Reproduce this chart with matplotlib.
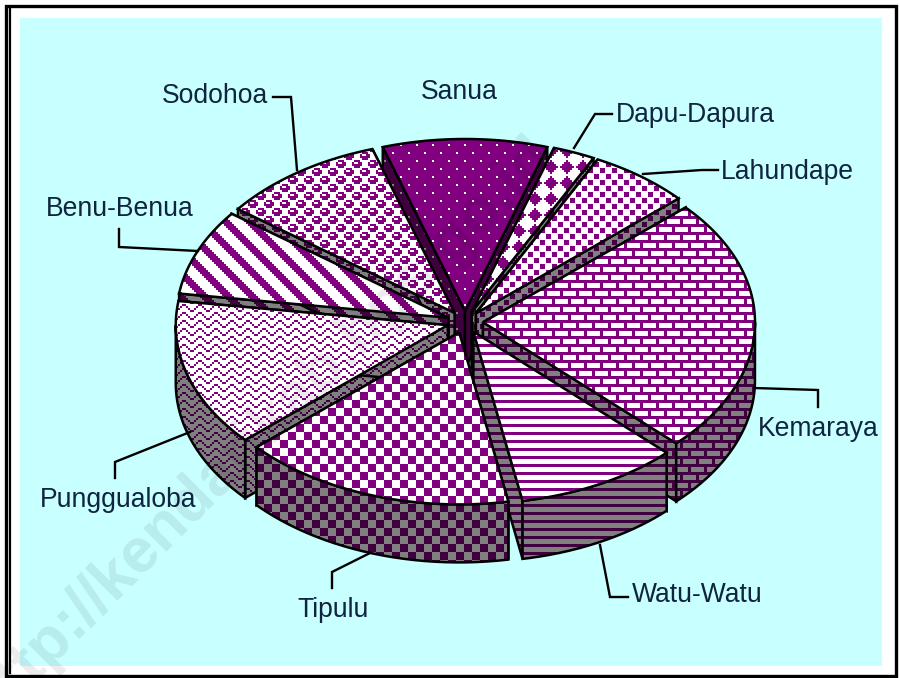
import numpy as np
import matplotlib
matplotlib.use("Agg")
import matplotlib.pyplot as plt
from matplotlib.path import Path
from matplotlib.patches import PathPatch, Rectangle

# clockwise from the top-left edge of Sanua
names = ["Sanua", "Dapu-Dapura", "Lahundape", "Kemaraya", "Watu-Watu",
         "Tipulu", "Punggualoba", "Benu-Benua", "Sodohoa"]
values = [9.8, 2.5, 6.0, 24.1, 9.7, 16.3, 13.9, 8.1, 9.8]
start_angle = 107.6

label_x = [459, 616, 721, 758, 632, 297, 40, 46, 162]
label_y = [92, 115, 172, 429, 595, 610, 500, 209, 96]
label_ha = ["center", "left", "left", "left", "left", "left", "left", "left", "left"]

leaders = {
    "Dapu-Dapura": [(612, 114), (595, 114), (574, 148)],
    "Lahundape": [(718, 170), (702, 170), (643, 174)],
    "Kemaraya": [(818, 407), (818, 390), (754, 388)],
    "Watu-Watu": [(628, 597), (610, 597), (600, 545)],
    "Tipulu": [(332, 588), (332, 572), (370, 553)],
    "Punggualoba": [(115, 478), (115, 462), (190, 432)],
    "Benu-Benua": [(119, 229), (119, 247), (198, 251)],
    "Sodohoa": [(273, 97), (291, 97), (297, 170)],
}

cx, cy = 465, 322
rx, ry = 272, 172
depth = 58
explode_x, explode_y = 18, 11

PURPLE = (128, 0, 128)
DARK = (64, 0, 64)
GREY = (128, 128, 128)
WHITE = (255, 255, 255)


def tile(rows, scale=2):
    a = np.array([[int(c) for c in r] for r in rows])
    return np.kron(a, np.ones((scale, scale), dtype=int))


def bricks():
    t = np.zeros((16, 16), dtype=int)
    t[0:3, :] = 1
    t[8:11, :] = 1
    t[:8, 0:3] = 1
    t[8:, 8:11] = 1
    return t


def stripes():
    y, x = np.mgrid[0:24, 0:24]
    return ((x // 2 - y // 2) % 12 < 5).astype(int)


def dots():
    t = np.zeros((12, 12), dtype=int)
    t[0:5, 0:5] = 1
    t[6:11, 6:11] = 1
    return t


patterns = {
    "Sanua": 1 - tile(["10000000", "00000000", "00000000", "00000000",
                       "00001000", "00000000", "00000000", "00000000"]),
    "Dapu-Dapura": tile(["00010000", "00111000", "01111100", "11111110",
                         "01111100", "00111000", "00010000", "00000000"]),
    "Lahundape": dots(),
    "Kemaraya": bricks(),
    "Watu-Watu": np.array([[1], [1], [1], [0], [0], [0], [0], [0]]),
    "Tipulu": tile(["11110000"] * 4 + ["00001111"] * 4),
    "Punggualoba": tile(["00011000", "00100100", "01000010", "10000001"]),
    "Benu-Benua": stripes(),
    "Sodohoa": tile(["01110000", "10011000", "11111000", "01110000",
                     "00000111", "10001001", "10001111", "00000111"]),
}


def canvas(pat, fg, bg):
    h, w = pat.shape
    m = np.tile(pat, (678 // h + 1, 900 // w + 1))[:678, :900]
    img = np.zeros((678, 900, 3), dtype=np.uint8)
    img[m == 1] = fg
    img[m == 0] = bg
    return img


fig = plt.figure(figsize=(9, 6.78), dpi=100)
ax = fig.add_axes([0, 0, 1, 1])
ax.set_xlim(0, 900)
ax.set_ylim(678, 0)
ax.axis("off")

# frame
ax.add_patch(Rectangle((0, 0), 900, 678, fc="white", ec="none", zorder=0))
ax.add_patch(Rectangle((20, 18), 862, 648, fc="#c8ffff", ec="none", zorder=0))
ax.add_patch(Rectangle((6, 5.5), 889.5, 670, fc="none", ec="black", lw=2.4, zorder=1))
ax.plot([9.5, 9.5], [8, 673], color="black", lw=1.6, zorder=1)

fracs = np.array(values) / sum(values) * 360
ang0 = start_angle - np.concatenate([[0], np.cumsum(fracs)[:-1]])
ang1 = ang0 - fracs
slices = {}
for n, a0, a1 in zip(names, ang0, ang1):
    mid = np.radians((a0 + a1) / 2)
    slices[n] = (a0, a1, cx + explode_x * np.cos(mid), cy - explode_y * np.sin(mid))


def rim(sx, sy, a0, a1):
    t = np.radians(np.linspace(a0, a1, 80))
    return np.column_stack([sx + rx * np.cos(t), sy - ry * np.sin(t)])


def face(pts, pat, fg, bg, z):
    path = Path(np.vstack([pts, pts[0]]))
    edge = PathPatch(path, fc="none", ec="black", lw=1.8, zorder=z + 0.5, joinstyle="miter")
    ax.add_patch(edge)
    im = ax.imshow(canvas(pat, fg, bg), extent=(0, 900, 678, 0), interpolation="nearest",
                   aspect="auto", zorder=z)
    im.set_clip_path(PathPatch(path, transform=ax.transData))


# back to front
order = ["Sanua", "Sodohoa", "Benu-Benua", "Punggualoba", "Dapu-Dapura",
         "Lahundape", "Kemaraya", "Watu-Watu", "Tipulu"]
z = 2
down = np.array([0, depth])
for n in order:
    a0, a1, sx, sy = slices[n]
    pat = patterns[n]
    apex = np.array([sx, sy])
    arc = rim(sx, sy, a0, a1)
    for p in (arc[0], arc[-1]):
        wall = np.array([apex, p, p + down, apex + down])
        face(wall, pat, DARK, GREY, z)
        z += 1
    # outer wall only where the rim faces the viewer
    lo, hi = a1 % 360, a0 % 360
    if hi <= lo:
        hi += 360
    for b0, b1 in [(180, 360), (540, 720)]:
        s, e = max(lo, b0), min(hi, b1)
        if e > s:
            o = rim(sx, sy, s, e)
            face(np.vstack([o, (o + down)[::-1]]), pat, DARK, GREY, z)
            z += 1
    face(np.vstack([apex, arc]), pat, PURPLE, WHITE, z)
    z += 1

for n, pts in leaders.items():
    xs, ys = zip(*pts)
    ax.plot(xs, ys, color="black", lw=1.7, zorder=z, solid_joinstyle="miter")

for n, x, y, ha in zip(names, label_x, label_y, label_ha):
    ax.text(x, y, n, ha=ha, va="center", fontsize=19.1, color="#10243f",
            family="Liberation Sans", zorder=z + 1)

ax.text(-20, 711, "http://kendarikab.bps.go.id", rotation=45, rotation_mode="anchor",
        ha="left", va="center", fontsize=45, fontweight="bold", color="black",
        alpha=0.08, family="Liberation Sans", zorder=z + 2)

fig.savefig("out.png", dpi=100)
